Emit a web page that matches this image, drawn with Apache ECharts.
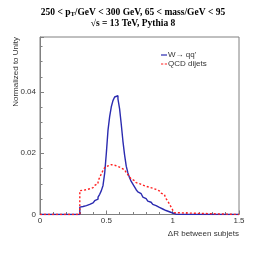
<!DOCTYPE html>
<html><head><meta charset="utf-8">
<script src="https://cdn.jsdelivr.net/npm/echarts@6/dist/echarts.min.js"></script>
<style>html,body{margin:0;padding:0;background:#fff}#c{width:266px;height:253px}</style>
</head><body><div id="c"></div>
<script>
const binStart = 0.3, binWidth = 0.0125;
const wValues = [0.0024,0.0026,0.0027,0.0029,0.0031,0.0033,0.0035,0.0038,0.0041,0.0045,0.0050,0.0057,0.0066,0.0078,0.0095,0.0135,
  0.0200,0.0275,0.0320,0.0352,0.0372,0.0384,0.0388,0.0378,0.0345,0.0295,0.0240,0.0195,0.0158,0.0136,0.0120,0.0108,
  0.0099,0.0090,0.0081,0.0074,0.0068,0.0062,0.0057,0.0052,0.0048,0.0044,0.0040,0.0036,0.0033,0.0029,0.0026,0.0023,
  0.0020,0.0018,0.0015,0.0013,0.0011,0.0009,0.0007,0.0005,0.0003,0.0001,0];
const qcdValues = [0.0078,0.0079,0.0080,0.0081,0.0083,0.0084,0.0086,0.0088,0.0091,0.0095,0.0101,0.0110,0.0121,0.0133,0.0144,0.0153,
  0.0159,0.0162,0.0163,0.0162,0.0161,0.0159,0.0157,0.0155,0.0152,0.0149,0.0146,0.0142,0.0137,0.0130,0.0123,0.0116,
  0.0111,0.0107,0.0104,0.0101,0.0098,0.0096,0.0094,0.0092,0.0090,0.0089,0.0087,0.0086,0.0084,0.0082,0.0080,0.0077,
  0.0074,0.0070,0.0065,0.0059,0.0052,0.0044,0.0035,0.0025,0.0015,0.0006,0];
const xRange = [0, 1.5];
const yTicks = [0, 0.02, 0.04];
const seriesNames = ['W→ qq\'', 'QCD dijets'];

function hist(vals){
  const d = [[xRange[0],0]];
  vals.forEach((v,i)=>d.push([+(binStart + i*binWidth).toFixed(4), v]));
  d.push([xRange[1],0]);
  return d;
}
const chart = echarts.init(document.getElementById('c'));
chart.setOption({
  animation:false,
  title:{
    text:'250 < p{s|T}/GeV < 300 GeV, 65 < mass/GeV < 95\n√s = 13 TeV, Pythia 8',
    left:'center', top:2,
    textStyle:{fontFamily:'Liberation Serif',fontWeight:'bold',fontSize:9.5,color:'#000',lineHeight:11,
      rich:{s:{fontFamily:'Liberation Serif',fontWeight:'bold',fontSize:6.5,color:'#000',verticalAlign:'bottom',padding:[4,0,0,0]}}}
  },
  grid:{left:40,right:27,top:37,bottom:38.5,show:true,borderColor:'#808080',borderWidth:1},
  legend:{
    orient:'vertical',left:156,top:46,itemGap:1,itemWidth:6,itemHeight:8,
    textStyle:{fontFamily:'Liberation Sans',fontSize:8,color:'#333',padding:[0,0,0,-4]},
    data:[
      {name:seriesNames[0],icon:'path://M0,0h8v1.6h-8z'},
      {name:seriesNames[1],icon:'path://M0,0h3v1.6h-3z M5,0h3v1.6h-3z'}
    ]
  },
  xAxis:{
    type:'value',min:xRange[0],max:xRange[1],interval:0.5,
    name:'ΔR between subjets',nameLocation:'end',nameGap:0,nameMoveOverlap:false,
    nameTextStyle:{fontFamily:'Liberation Sans',fontSize:8,color:'#333',align:'right',verticalAlign:'top',padding:[15,0,0,0]},
    axisLine:{lineStyle:{color:'#808080',width:1}},
    axisTick:{inside:true,length:4,lineStyle:{color:'#808080'}},
    minorTick:{show:true,splitNumber:5,length:2.5,lineStyle:{color:'#808080'}},
    axisLabel:{fontFamily:'Liberation Sans',fontSize:8,color:'#333',margin:2},
    splitLine:{show:false}
  },
  yAxis:{
    type:'value',min:0,max:0.058,interval:0.02,
    name:'Normalized to Unity',nameLocation:'end',nameRotate:90,nameGap:0,nameMoveOverlap:false,
    nameTextStyle:{fontFamily:'Liberation Sans',fontSize:8,color:'#333',align:'right',verticalAlign:'bottom',padding:[0,0,20,0]},
    axisLine:{lineStyle:{color:'#808080',width:1}},
    axisTick:{inside:true,length:4,lineStyle:{color:'#808080'}},
    minorTick:{show:true,splitNumber:4,length:2.5,lineStyle:{color:'#808080'}},
    axisLabel:{fontFamily:'Liberation Sans',fontSize:8,color:'#333',margin:4,
      formatter:v=>yTicks.some(t=>Math.abs(t-v)<1e-9)?String(v):''},
    splitLine:{show:false}
  },
  series:[
    {name:seriesNames[0],type:'line',step:'end',symbol:'none',data:hist(wValues),
     lineStyle:{color:'#2b2bb0',width:1.4},itemStyle:{color:'#2b2bb0'},z:2},
    {name:seriesNames[1],type:'line',step:'end',symbol:'none',data:hist(qcdValues),
     lineStyle:{color:'#ff2020',width:1.4,type:[2,2]},itemStyle:{color:'#ff2020'},z:3}
  ]
});
</script></body></html>
